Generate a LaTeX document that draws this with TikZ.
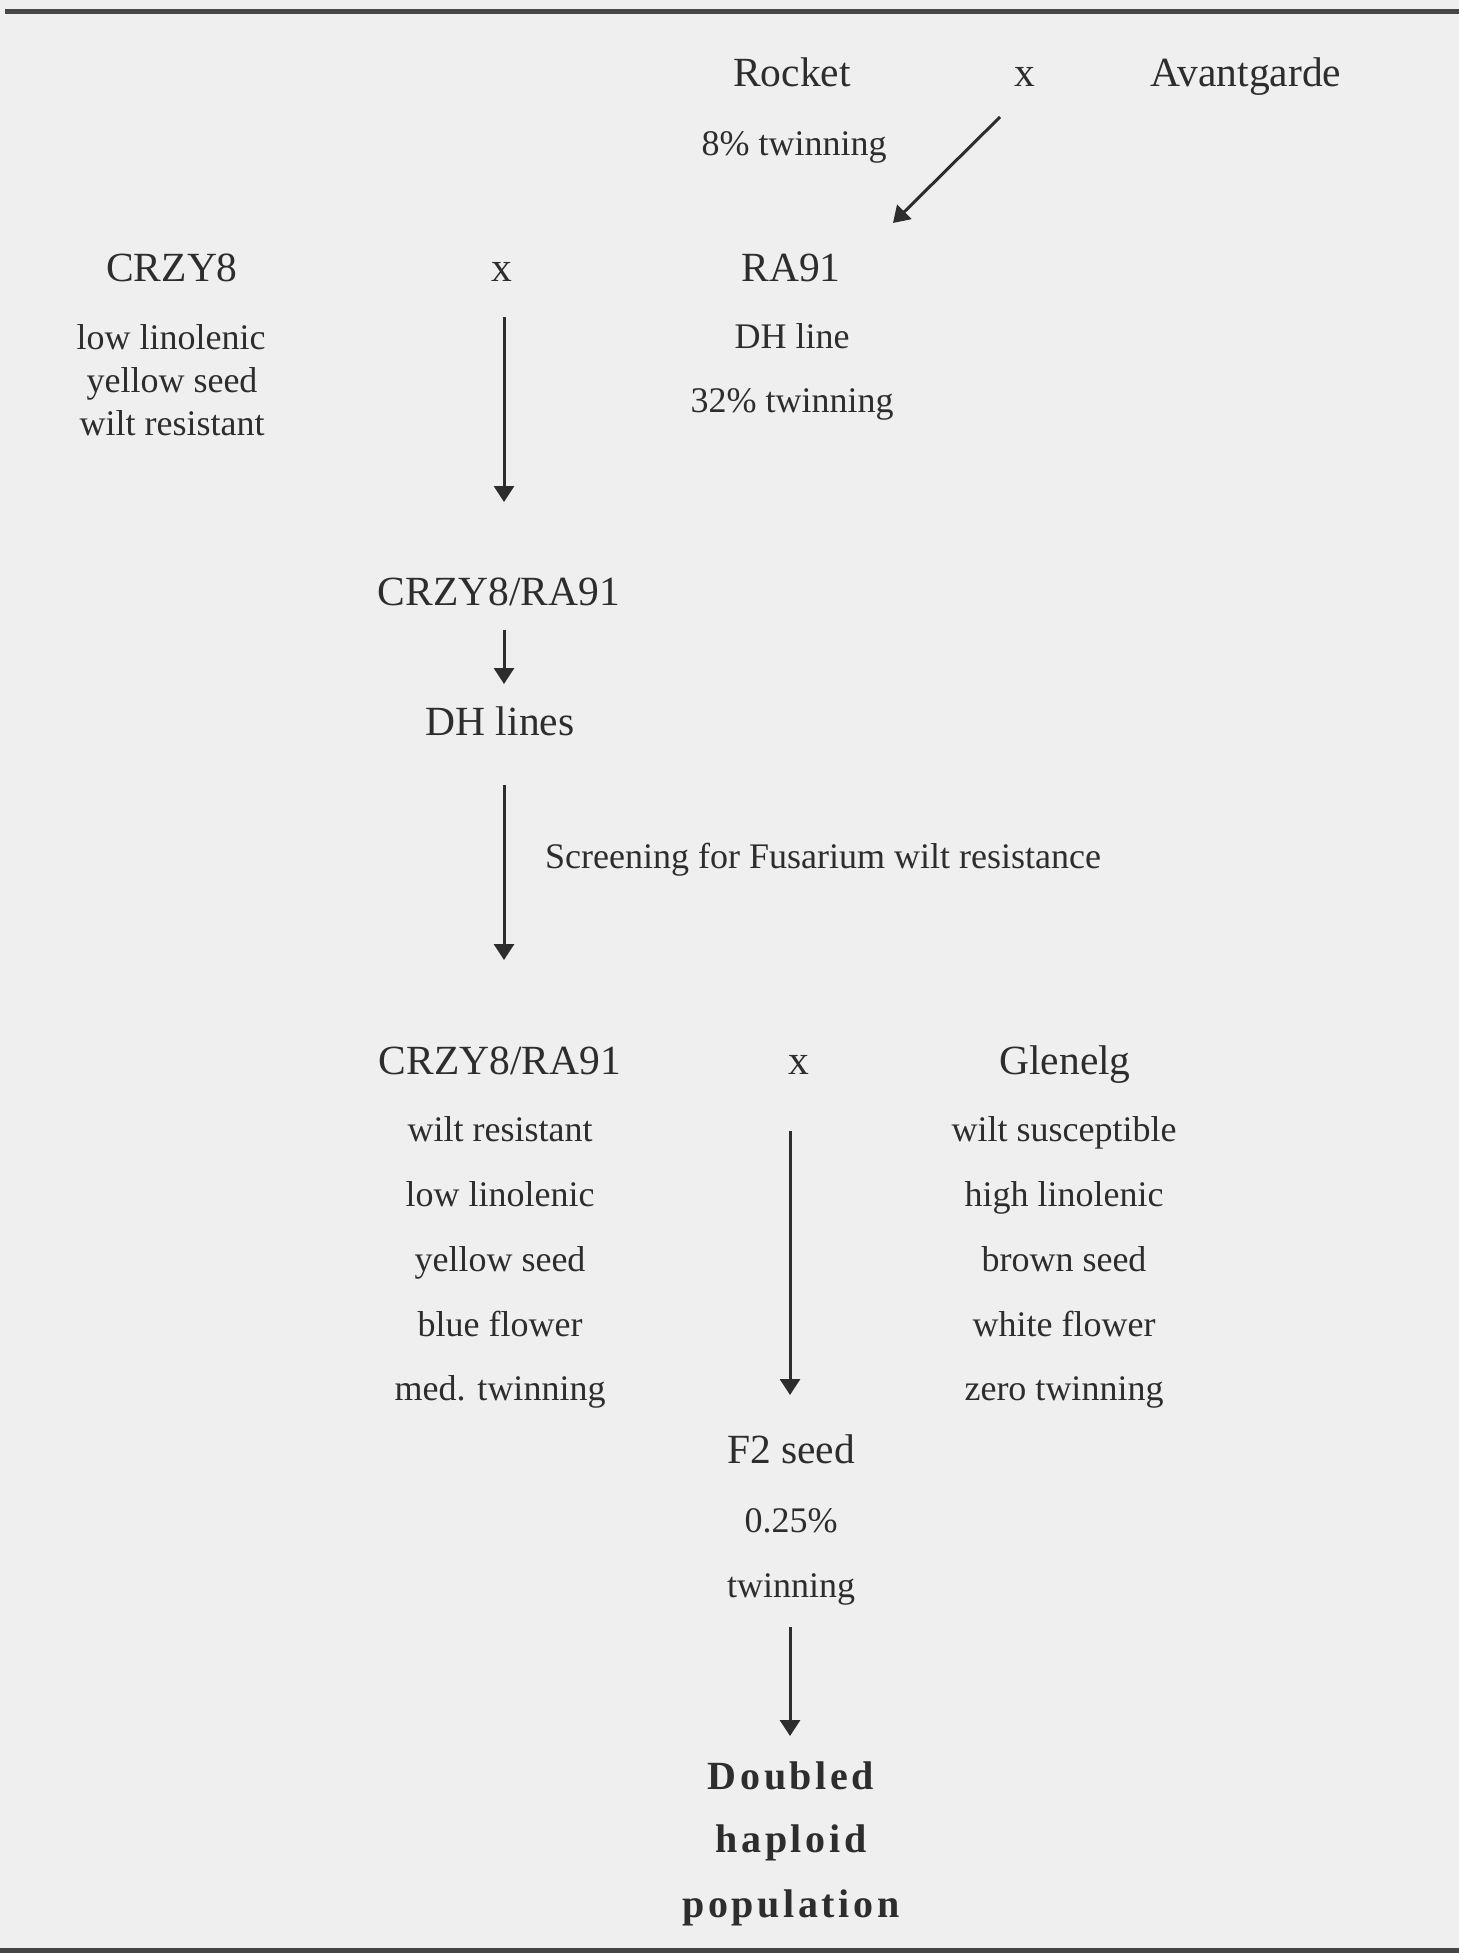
\documentclass[tikz,border=0pt]{standalone}
\usepackage{fontspec}
\setmainfont{Liberation Serif}
\usetikzlibrary{arrows.meta}

\definecolor{paper}{RGB}{239,239,239}
\definecolor{ink}{RGB}{45,45,45}
\definecolor{rulegray}{RGB}{70,70,70}

\newcommand{\bigtxt}{\fontsize{41.5}{48}\selectfont}
\newcommand{\smalltxt}{\fontsize{36}{42}\selectfont}
\newcommand{\resulttxt}{\addfontfeature{LetterSpace=9}\bfseries\fontsize{40}{46}\selectfont}

\tikzset{
  big/.style={anchor=base, inner sep=0pt, text=ink, font=\bigtxt},
  small/.style={anchor=base, inner sep=0pt, text=ink, font=\smalltxt},
  result/.style={anchor=base, inner sep=0pt, text=ink, font=\resulttxt},
  flow/.style={draw=ink, line width=3pt,
    -{Triangle[width=20pt,length=16pt]}},
  rulebar/.style={draw=rulegray, line width=5pt}
}

\begin{document}
\begin{tikzpicture}[x=1pt, y=-1pt]
  % page and its rules
  \fill[paper] (0,0) rectangle (1459,1953);
  \useasboundingbox (0,0) rectangle (1459,1953);
  \coordinate (topL) at (5,11.5);
  \coordinate (topR) at (1459,11.5);
  \coordinate (botL) at (0,1950.5);
  \coordinate (botR) at (1459,1950.5);
  \draw[rulebar] (topL) -- (topR);
  \draw[rulebar] (botL) -- (botR);

  % first cross
  \node[big]   (rocket) at (792,87)   {Rocket};
  \node[big]   (cross1) at (1025,87)  {x};
  \node[big]   (avant)  at (1246,87)  {Avantgarde};
  \node[small] (tw8)    at (794,156)  {8\% twinning};

  % second cross
  \node[big]   (crzy)   at (172,281)  {CRZY8};
  \node[big]   (cross2) at (502,281)  {x};
  \node[big]   (ra)     at (791,281)  {RA91};
  \node[small] (c1)     at (171,349)  {low linolenic};
  \node[small] (c2)     at (172,392)  {yellow seed};
  \node[small] (c3)     at (172,435)  {wilt resistant};
  \node[small] (r1)     at (792,348)  {DH line};
  \node[small] (r2)     at (792,412)  {32\% twinning};

  % doubled haploids and screening
  \node[big]   (f1)     at (499,605)  {CRZY8/RA91};
  \node[big]   (dh)     at (500,735)  {DH lines};
  \node[small, anchor=base west] (screen) at (545,868)
        {Screening for Fusarium wilt resistance};

  % third cross
  \node[big]   (sel)    at (500,1074) {CRZY8/RA91};
  \node[big]   (cross3) at (799,1074) {x};
  \node[big]   (glen)   at (1065,1074){Glenelg};
  \node[small] (l1) at (500,1141) {wilt resistant};
  \node[small] (l2) at (500,1206) {low linolenic};
  \node[small] (l3) at (500,1271) {yellow seed};
  \node[small] (l4) at (500,1336) {blue flower};
  \node[small] (l5) at (500,1400) {med. twinning};
  \node[small] (g1) at (1064,1141) {wilt susceptible};
  \node[small] (g2) at (1064,1206) {high linolenic};
  \node[small] (g3) at (1064,1271) {brown seed};
  \node[small] (g4) at (1064,1336) {white flower};
  \node[small] (g5) at (1064,1400) {zero twinning};

  % F2 and the final population
  \node[big]   (f2)  at (791,1463) {F2 seed};
  \node[small] (f2a) at (791,1532) {0.25\%};
  \node[small] (f2b) at (791,1597) {twinning};
  \node[result] (p1) at (791,1789) {Doubled};
  \node[result] (p2) at (791,1852) {haploid};
  \node[result] (p3) at (791,1917) {population};

  % arrow ends
  \coordinate (a0s) at (1000,117);  \coordinate (a0e) at (893,223);
  \coordinate (a1s) at (504,317);   \coordinate (a1e) at (504,502);
  \coordinate (a2s) at (504,630);   \coordinate (a2e) at (504,684);
  \coordinate (a3s) at (504,785);   \coordinate (a3e) at (504,960);
  \coordinate (a4s) at (790,1131);  \coordinate (a4e) at (790,1395);
  \coordinate (a5s) at (790,1627);  \coordinate (a5e) at (790,1736);

  \draw[flow] (a0s) -- (a0e);
  \draw[flow] (a1s) -- (a1e);
  \draw[flow] (a2s) -- (a2e);
  \draw[flow] (a3s) -- (a3e);
  \draw[flow] (a4s) -- (a4e);
  \draw[flow] (a5s) -- (a5e);
\end{tikzpicture}
\end{document}
